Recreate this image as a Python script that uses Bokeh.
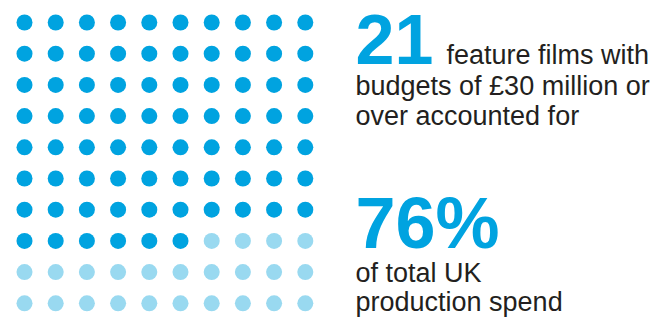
from bokeh.plotting import figure
from bokeh.models import Range1d, Label, ColumnDataSource
from bokeh.embed import file_html
from bokeh.resources import INLINE

# ---- data ----
total_dots = 100
grid_cols = 10
highlighted = 76          # share of UK production spend (%)
film_count = "21"
pct_label = "76%"
line_films = ["feature films with", "budgets of £30 million or", "over accounted for"]
line_spend = ["of total UK", "production spend"]

DARK = "#00A3E0"
LIGHT = "#99D9F0"
TEXT = "#231F20"

idx = list(range(total_dots))
cols = [i % grid_cols for i in idx]
rows = [i // grid_cols for i in idx]
colors = [DARK if i < highlighted else LIGHT for i in idx]
src = ColumnDataSource(dict(col=cols, row=rows, color=colors))

W, H = 669, 318
STEP = 31.2
x0 = -24 / STEP
y0 = -22 / STEP
p = figure(width=W, height=H, output_backend="svg", toolbar_location=None,
           x_range=Range1d(x0, x0 + W / STEP), y_range=Range1d(y0 + H / STEP, y0),
           x_axis_type=None, y_axis_type=None, min_border=0,
           background_fill_color="white", border_fill_color="white")
p.grid.visible = False
p.outline_line_color = None

p.scatter(x="col", y="row", source=src, marker="circle", size=16,
          fill_color="color", line_color=None)

def lab(text, x, baseline, size, color, bold=False):
    mid = baseline - 0.3465 * size
    p.add_layout(Label(x=x, y=H - mid, x_units="screen", y_units="screen",
                       text=text, text_font="Liberation Sans",
                       text_font_size=f"{size}px",
                       text_font_style="bold" if bold else "normal",
                       text_color=color, text_baseline="middle",
                       text_align="left"))

lab(film_count, 355, 63.5, 70, DARK, bold=True)
lab(line_films[0], 446, 63.5, 27, TEXT)
lab(line_films[1], 355, 95, 27, TEXT)
lab(line_films[2], 355, 125, 27, TEXT)
lab(pct_label, 355, 247.5, 72, DARK, bold=True)
lab(line_spend[0], 355, 281.5, 27, TEXT)
lab(line_spend[1], 355, 311, 27, TEXT)

open("out.html", "w").write(file_html(p, INLINE))
